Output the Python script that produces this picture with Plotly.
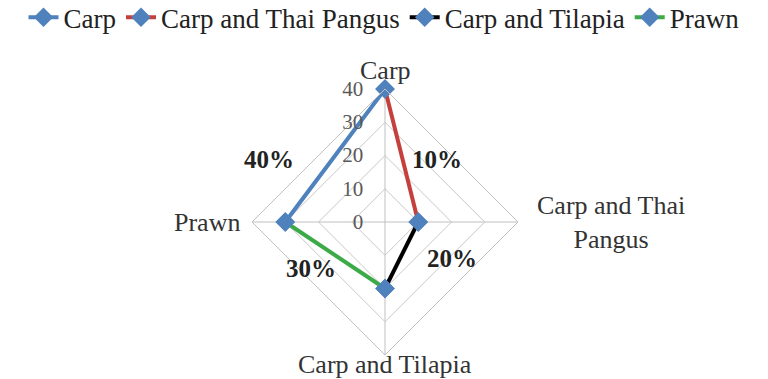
import plotly.graph_objects as go

categories = ["Carp", "Carp and Thai Pangus", "Carp and Tilapia", "Prawn"]
category_labels = ["Carp", "Carp and Thai<br>Pangus", "Carp and Tilapia", "Prawn"]
series_names = ["Carp", "Carp and Thai Pangus", "Carp and Tilapia", "Prawn"]
# each series joins two neighbouring axes
series_theta = [
    ["Prawn", "Carp"],
    ["Carp", "Carp and Thai Pangus"],
    ["Carp and Thai Pangus", "Carp and Tilapia"],
    ["Carp and Tilapia", "Prawn"],
]
series_r = [
    [30, 40],
    [40, 10],
    [10, 20],
    [20, 30],
]
series_colors = ["#4F81BD", "#C5403D", "#000000", "#3DAA48"]
share_labels = ["40%", "10%", "20%", "30%"]
radial_ticks = [0, 10, 20, 30, 40]

fig = go.Figure()
for name, th, r, col in zip(series_names, series_theta, series_r, series_colors):
    fig.add_trace(go.Scatterpolar(
        r=r, theta=th, name=name, mode="lines+markers",
        line=dict(color=col, width=4),
        marker=dict(symbol="diamond", size=15, color="#4F81BD",
                    line=dict(width=0)),
    ))

W, H = 768, 379
cx, cy, R = 385, 222, 133

def px(x, y):
    return x / W, 1 - y / H

# share labels placed beside each edge
label_pos = [(269, 160), (437, 160), (452, 258), (311, 268)]
for txt, (x, y) in zip(share_labels, label_pos):
    xx, yy = px(x, y)
    fig.add_annotation(x=xx, y=yy, xref="paper", yref="paper", text="<b>%s</b>" % txt,
                       xanchor="center", yanchor="middle",
                       showarrow=False, font=dict(size=25, color="#222222",
                                                  family="Liberation Serif"))

# category (axis) labels
cat_pos = [(385, 71), (611, 222), (385, 364), (207, 222)]
for txt, (x, y) in zip(category_labels, cat_pos):
    xx, yy = px(x, y)
    fig.add_annotation(x=xx, y=yy, xref="paper", yref="paper", text=txt, align="center",
                       xanchor="center", yanchor="middle",
                       showarrow=False, font=dict(size=26, color="#333333",
                                                  family="Liberation Serif"))

fig.update_layout(
    width=W, height=H,
    margin=dict(l=0, r=0, t=0, b=0, autoexpand=False),
    paper_bgcolor="white",
    font=dict(family="Liberation Serif", color="#222222"),
    showlegend=True,
    legend=dict(orientation="h", x=0.5, xanchor="center", y=1.018, yanchor="top",
                font=dict(size=27, color="#222222"), itemwidth=30,
                tracegroupgap=0, itemclick=False),
    polar=dict(
        domain=dict(x=[(cx - R) / W, (cx + R) / W],
                    y=[(H - cy - R) / H, (H - cy + R) / H]),
        gridshape="linear",
        bgcolor="white",
        angularaxis=dict(
            categoryorder="array", categoryarray=categories,
            rotation=90, direction="clockwise",
            showline=True, linecolor="#c0c0c0", linewidth=1,
            gridcolor="#c0c0c0", gridwidth=1,
            ticks="", showticklabels=False,
        ),
        radialaxis=dict(
            range=[0, 40], tickvals=radial_ticks, angle=90,
            side="counterclockwise", tickangle=90,
            showline=False, gridcolor="#c8c8c8", gridwidth=1,
            ticks="outside", ticklen=14, tickcolor="rgba(0,0,0,0)",
            tickfont=dict(size=21, color="#595959"),
        ),
    ),
)

fig.write_html("out.html")
